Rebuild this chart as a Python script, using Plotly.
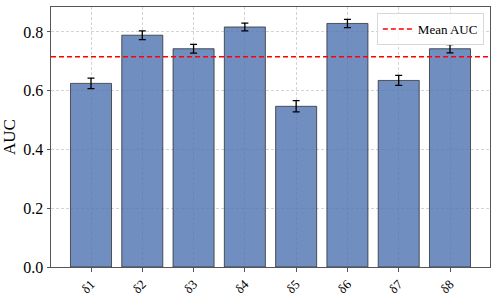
import plotly.graph_objects as go

categories = ["δ1", "δ2", "δ3", "δ4", "δ5", "δ6", "δ7", "δ8"]
auc_values = [0.625, 0.789, 0.743, 0.817, 0.547, 0.829, 0.635, 0.743]
auc_errors = [0.018, 0.015, 0.015, 0.013, 0.019, 0.014, 0.017, 0.014]
mean_auc = sum(auc_values) / len(auc_values)

xs = list(range(len(categories)))
font = "Liberation Serif, Times New Roman, serif"

fig = go.Figure()
fig.add_trace(go.Bar(
    x=xs, y=auc_values, width=0.8,
    marker=dict(color="rgba(76,114,176,0.8)", line=dict(color="rgba(40,40,40,0.75)", width=1)),
    error_y=dict(type="data", array=auc_errors, color="black", thickness=1.3, width=3.5),
    showlegend=False,
))
fig.add_shape(type="line", xref="paper", x0=0, x1=1, yref="y", y0=mean_auc, y1=mean_auc,
              line=dict(color="red", width=1.5, dash="5px,3px"))
fig.add_trace(go.Scatter(x=[None], y=[None], mode="lines", name="Mean AUC",
                         line=dict(color="red", width=1.5, dash="5px,3px")))

fig.update_layout(
    width=498, height=299,
    margin=dict(l=51, r=8, t=7, b=32, autoexpand=False),
    plot_bgcolor="white", paper_bgcolor="white",
    font=dict(family=font, color="black"),
    bargap=0.2,
    legend=dict(x=0.986, y=0.977, xanchor="right", yanchor="top",
                bgcolor="rgba(255,255,255,0.8)", bordercolor="#d8d8d8", borderwidth=1,
                font=dict(size=13, family=font), itemwidth=30),
)
grid = dict(showgrid=True, gridcolor="#d4d4d4", griddash="3px,2px", gridwidth=0.8,
            showline=True, linecolor="#555", linewidth=1, mirror=True,
            ticks="outside", ticklen=3.5, tickcolor="#555", zeroline=False, automargin=False)
fig.update_xaxes(
    range=[-0.78, 7.78], tickmode="array", tickvals=xs, ticktext=categories,
    tickangle=-45, tickfont=dict(size=13, family=font), **grid,
)
fig.update_yaxes(
    range=[0, 0.885], tickvals=[0, 0.2, 0.4, 0.6, 0.8], ticktext=["0.0", "0.2", "0.4", "0.6", "0.8"],
    tickfont=dict(size=16, family=font),
    title=dict(text="AUC", font=dict(size=17, family=font), standoff=6), **grid,
)

fig.write_html("out.html", config={"displayModeBar": False},
               post_script="document.body.style.margin='0';")
